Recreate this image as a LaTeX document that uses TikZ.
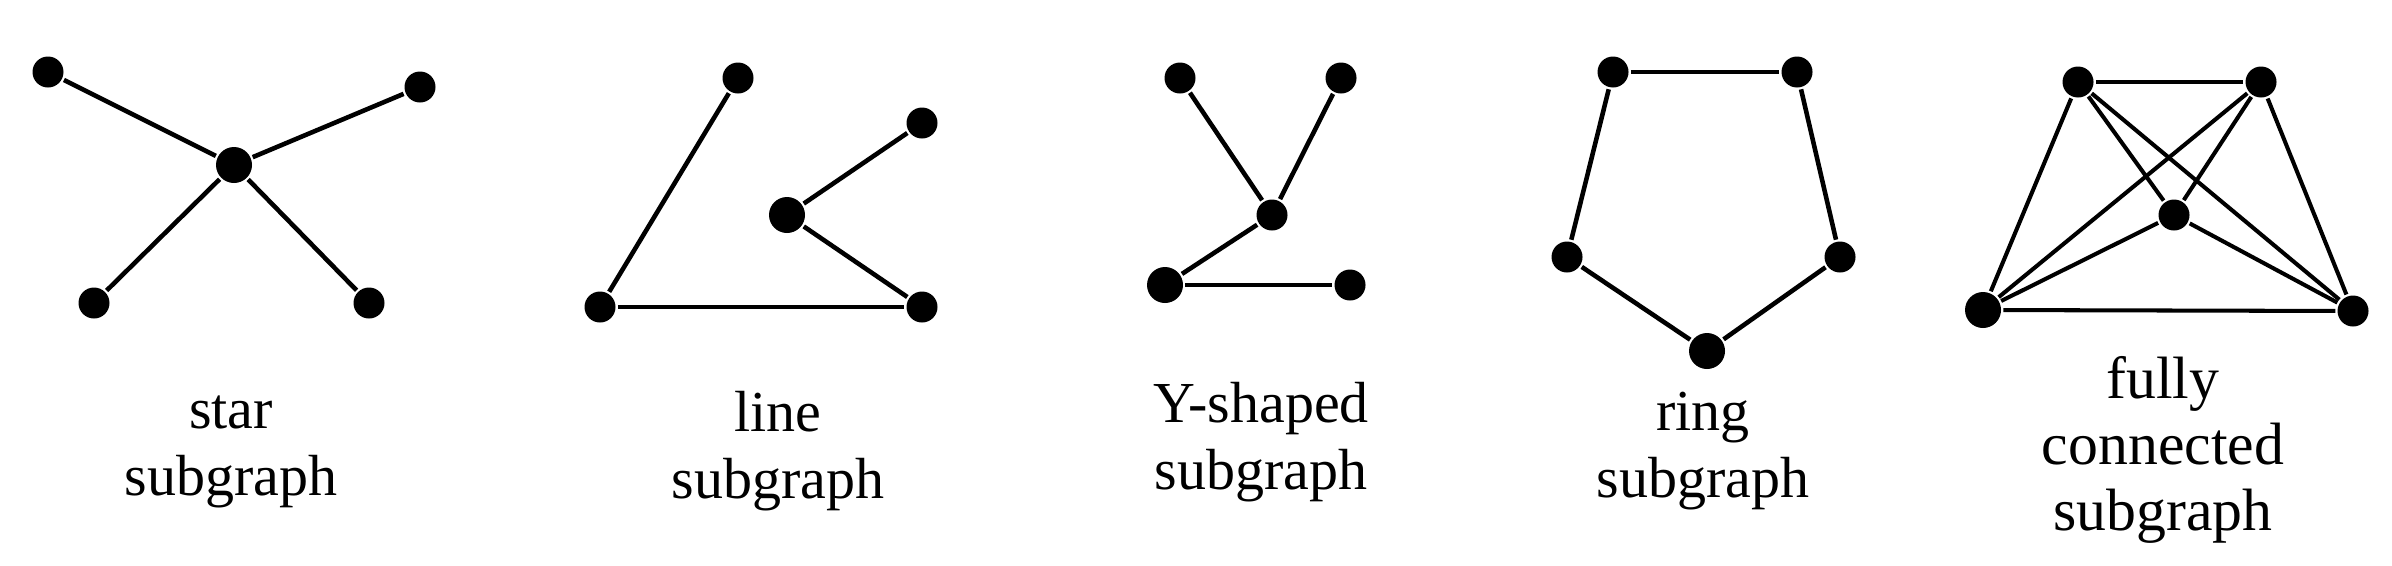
\documentclass[tikz,border=0pt]{standalone}
\usepackage{fontspec}
\setmainfont{Liberation Serif}
\usetikzlibrary{positioning}

\tikzset{
  dot/.style={circle, fill=black, inner sep=0pt, minimum size=3.1mm},
  bigdot/.style={dot, minimum size=3.6mm},
  lbl/.style={align=center, inner sep=0pt, font=\fontsize{16.5}{19}\selectfont},
}

\begin{document}
\begin{tikzpicture}[x=0.1mm, y=-0.1mm, line width=1.3pt]
\useasboundingbox (0,0) rectangle (2392,565);
% star: one hub, four leaves
\node[bigdot] (sc) at (234,165) {};
\node[dot] (s1) at (48,72) {};
\node[dot] (s2) at (420,87) {};
\node[dot] (s3) at (94,303) {};
\node[dot] (s4) at (369,303) {};
\foreach \a in {s1,s2,s3,s4} \draw (sc) -- (\a);
\node[lbl] (starlbl) at (231,452) {star\\subgraph};
% line: a path through all five
\node[dot] (l1) at (738,78) {};
\node[dot] (l2) at (600,307) {};
\node[dot] (l3) at (922,307) {};
\node[bigdot] (l4) at (787,215) {};
\node[dot] (l5) at (922,123) {};
\foreach \a/\b in {l1/l2, l2/l3, l3/l4, l4/l5} \draw (\a) -- (\b);
\node[lbl] (linelbl) at (778,451) {line\\subgraph};
% Y-shaped
\node[dot] (y1) at (1180,78) {};
\node[dot] (y2) at (1341,78) {};
\node[dot] (yc) at (1272,215) {};
\node[bigdot] (y3) at (1165,285) {};
\node[dot] (y4) at (1350,285) {};
\foreach \a/\b in {y1/yc, y2/yc, yc/y3, y3/y4} \draw (\a) -- (\b);
\node[lbl] (ylbl) at (1261,442) {Y-shaped\\subgraph};
% ring: closed pentagon
\node[dot] (r1) at (1613,72) {};
\node[dot] (r2) at (1797,72) {};
\node[dot] (r3) at (1840,257) {};
\node[bigdot] (r4) at (1707,351) {};
\node[dot] (r5) at (1567,257) {};
\foreach \a/\b in {r1/r2, r2/r3, r3/r4, r4/r5, r5/r1} \draw (\a) -- (\b);
\node[lbl] (ringlbl) at (1703,451) {ring\\subgraph};
% fully connected: every pair joined
\node[dot] (f1) at (2078,82) {};
\node[dot] (f2) at (2261,82) {};
\node[dot] (fc) at (2174,215) {};
\node[bigdot] (f3) at (1983,310) {};
\node[dot] (f4) at (2353,311) {};
\foreach \a/\b in {f1/f2, f1/fc, f1/f3, f1/f4, f2/fc, f2/f3, f2/f4, fc/f3, fc/f4, f3/f4}
  \draw[line width=1.15pt] (\a) -- (\b);
\node[lbl, font=\fontsize{17}{18.8}\selectfont] (fulllbl) at (2163,450) {fully\\connected\\subgraph};
\end{tikzpicture}
\end{document}
